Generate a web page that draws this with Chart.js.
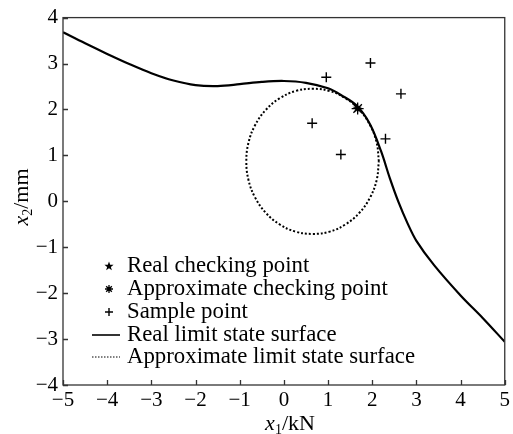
<!DOCTYPE html>
<html>
<head>
<meta charset="utf-8">
<script src="https://cdn.jsdelivr.net/npm/chart.js@4"></script>
<style>
  html, body { margin: 0; padding: 0; background: #fff; }
</style>
</head>
<body>
<canvas id="chart" width="513" height="434"></canvas>
<script>
// Values

// Real limit state surface
var surfaceX = [-5, -4.5, -4, -3.5, -3, -2.5, -2, -1.5, -1, -0.5, 0, 0.5, 1, 1.3, 1.65, 1.95, 2.2, 2.4, 2.6, 2.8, 3.0, 3.4, 4.0, 4.5, 5];
var surfaceY = [3.68, 3.44, 3.21, 2.99, 2.79, 2.63, 2.53, 2.51, 2.55, 2.60, 2.62, 2.58, 2.46, 2.31, 2.08, 1.68, 1.09, 0.50, -0.03, -0.48, -0.86, -1.39, -2.05, -2.54, -3.06];

// Approximate limit state surface (closed loop)
var approxX = [2.15, 2.10, 1.95, 1.71, 1.40, 1.04, 0.65, 0.26, -0.10, -0.41, -0.65, -0.80, -0.85, -0.80, -0.65, -0.41, -0.10, 0.26, 0.65, 1.04, 1.40, 1.71, 1.95, 2.10, 2.15];
var approxY = [0.87, 1.28, 1.66, 1.99, 2.24, 2.40, 2.45, 2.40, 2.24, 1.99, 1.66, 1.28, 0.87, 0.46, 0.08, -0.25, -0.50, -0.66, -0.71, -0.66, -0.50, -0.25, 0.08, 0.46, 0.87];

// Sample points
var sampleX = [0.96, 1.96, 2.65, 0.64, 2.30, 1.29];
var sampleY = [2.70, 3.01, 2.34, 1.70, 1.36, 1.02];

// Checking points
var realCheck = [1.66, 2.03];
var approxCheck = [1.67, 2.02];

var xTicks = [-5, -4, -3, -2, -1, 0, 1, 2, 3, 4, 5];
var yTicks = [-4, -3, -2, -1, 0, 1, 2, 3, 4];

var FONT = "'Liberation Serif', 'Times New Roman', serif";

function pairs(xs, ys) {
  var out = [];
  for (var i = 0; i < xs.length; i++) out.push({ x: xs[i], y: ys[i] });
  return out;
}

function minusLabel(v) {
  return v < 0 ? '\u2212' + (-v) : String(v);
}

// small filled five point star for the real checking point
function makeStar() {
  var c = document.createElement('canvas');
  c.width = 10; c.height = 10;
  var g = c.getContext('2d');
  g.fillStyle = '#000';
  g.beginPath();
  for (var i = 0; i < 10; i++) {
    var r = i % 2 === 0 ? 4.8 : 2.0;
    var a = -Math.PI / 2 + i * Math.PI / 5;
    var px = 5 + r * Math.cos(a), py = 5.3 + r * Math.sin(a);
    if (i === 0) g.moveTo(px, py); else g.lineTo(px, py);
  }
  g.closePath();
  g.fill();
  return c;
}
var starImg = makeStar();

function drawTitle(ctx, x, y, sub, unit) {
  ctx.font = 'italic 22px ' + FONT;
  var w1 = ctx.measureText('x').width;
  ctx.font = '14px ' + FONT;
  var w2 = ctx.measureText(sub).width;
  ctx.font = '22px ' + FONT;
  var w3 = ctx.measureText(unit).width;
  var sx = x - (w1 + w2 + w3) / 2;
  ctx.textAlign = 'left';
  ctx.textBaseline = 'alphabetic';
  ctx.font = 'italic 22px ' + FONT;
  ctx.fillText('x', sx, y);
  ctx.font = '14px ' + FONT;
  ctx.fillText(sub, sx + w1, y + 4);
  ctx.font = '22px ' + FONT;
  ctx.fillText(unit, sx + w1 + w2, y);
}

var paperPlugin = {
  id: 'paper',
  afterDraw: function(chart) {
    var ctx = chart.ctx, a = chart.chartArea;
    var xs = chart.scales.x, ys = chart.scales.y;
    ctx.save();
    // frame
    ctx.strokeStyle = '#333';
    ctx.lineWidth = 1.3;
    ctx.strokeRect(a.left, a.top, a.right - a.left, a.bottom - a.top);
    // inward ticks on bottom and left
    ctx.beginPath();
    xTicks.forEach(function(v) {
      var px = Math.round(xs.getPixelForValue(v)) + 0.5;
      ctx.moveTo(px, a.bottom); ctx.lineTo(px, a.bottom - 5);
    });
    yTicks.forEach(function(v) {
      var py = Math.round(ys.getPixelForValue(v)) + 0.5;
      ctx.moveTo(a.left, py); ctx.lineTo(a.left + 5, py);
    });
    ctx.stroke();

    // legend inside the plot, lower left
    var rows = [266, 289, 312, 335, 357];
    ctx.fillStyle = '#000';
    ctx.strokeStyle = '#000';
    chart.data.datasets.forEach(function(ds, i) {
      var cy = rows[i];
      if (ds.showLine) {
        ctx.save();
        ctx.lineWidth = ds.legendWidth;
        ctx.setLineDash(ds.legendDash || []);
        ctx.beginPath();
        ctx.moveTo(92, cy); ctx.lineTo(120, cy);
        ctx.stroke();
        ctx.restore();
      } else {
        ctx.lineWidth = ds.pointBorderWidth;
        Chart.helpers.drawPoint(ctx, {
          pointStyle: ds.pointStyle,
          radius: ds.legendRadius,
          rotation: 0,
          borderWidth: ds.pointBorderWidth
        }, 109, cy);
      }
      ctx.font = '22.8px ' + FONT;
      ctx.textAlign = 'left';
      ctx.textBaseline = 'middle';
      ctx.fillStyle = '#000';
      ctx.fillText(ds.label, 127, cy);
    });

    // axis titles
    ctx.fillStyle = '#000';
    drawTitle(ctx, 290, 430, '1', '/kN');
    ctx.translate(28, 197);
    ctx.rotate(-Math.PI / 2);
    drawTitle(ctx, 0, 0, '2', '/mm');
    ctx.restore();
  }
};

var ctx = document.getElementById('chart').getContext('2d');
var config = {
  type: 'scatter',
  data: {
    datasets: [{
      label: 'Real checking point',
      data: [{ x: realCheck[0], y: realCheck[1] }],
      pointStyle: starImg,
      legendRadius: 4,
      pointRadius: 4,
      pointBorderWidth: 1,
      borderColor: '#000',
      backgroundColor: '#000'
    }, {
      label: 'Approximate checking point',
      data: [{ x: approxCheck[0], y: approxCheck[1] }],
      pointStyle: 'star',
      legendRadius: 4,
      pointRadius: 6,
      pointBorderWidth: 1.3,
      borderColor: '#000',
      backgroundColor: '#000'
    }, {
      label: 'Sample point',
      data: pairs(sampleX, sampleY),
      pointStyle: 'cross',
      legendRadius: 4,
      pointRadius: 5,
      pointBorderWidth: 1.4,
      borderColor: '#000',
      backgroundColor: '#000'
    }, {
      label: 'Real limit state surface',
      data: pairs(surfaceX, surfaceY),
      showLine: true,
      pointRadius: 0,
      borderColor: '#000',
      borderWidth: 2.2,
      legendWidth: 1.6,
      tension: 0.35
    }, {
      label: 'Approximate limit state surface',
      data: pairs(approxX, approxY),
      showLine: true,
      pointRadius: 0,
      borderColor: '#000',
      borderWidth: 2,
      legendWidth: 1,
      legendDash: [1.5, 1.5],
      borderDash: [2, 2],
      tension: 0.4
    }]
  },
  options: {
    responsive: false,
    animation: false,
    events: [],
    layout: { padding: { top: 17, right: 3, left: 0, bottom: 0 } },
    plugins: {
      legend: { display: false },
      tooltip: { enabled: false }
    },
    scales: {
      x: {
        type: 'linear',
        min: -5, max: 5,
        grid: { display: false, drawTicks: false },
        border: { display: false },
        afterFit: function(scale) { scale.height = 49; },
        ticks: {
          stepSize: 1,
          padding: 3,
          color: '#000',
          font: { family: FONT, size: 21 },
          callback: minusLabel,
          maxRotation: 0
        }
      },
      y: {
        type: 'linear',
        min: -4, max: 4,
        grid: { display: false, drawTicks: false },
        border: { display: false },
        afterFit: function(scale) { scale.width = 63; },
        ticks: {
          stepSize: 1,
          padding: 5,
          color: '#000',
          font: { family: FONT, size: 21 },
          callback: minusLabel
        }
      }
    }
  },
  plugins: [paperPlugin]
};
var chart = new Chart(ctx, config);
</script>
</body>
</html>
